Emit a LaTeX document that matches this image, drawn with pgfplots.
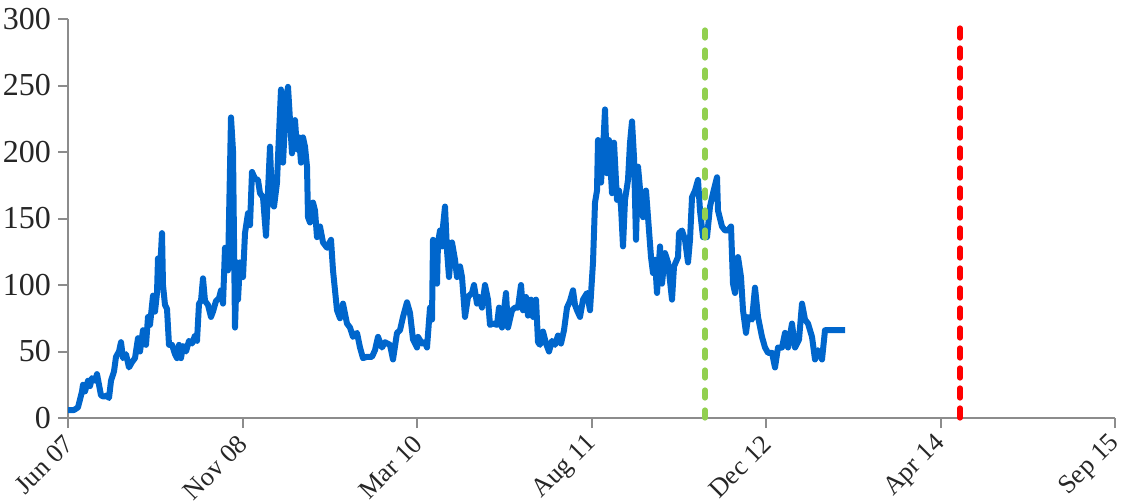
\documentclass[border=0pt]{standalone}
\usepackage{fontspec}
\setmainfont{Liberation Serif}
\usepackage{pgfplots}
\pgfplotsset{compat=1.18}
\definecolor{lineblue}{RGB}{0,102,204}
\definecolor{dgreen}{RGB}{146,208,80}
\definecolor{axgray}{RGB}{140,140,140}
\begin{document}
\begin{tikzpicture}
\begin{axis}[
    name=ax,
    scale only axis,
    width=523.5pt, height=199.5pt,
    xmin=68, xmax=1115, ymin=0, ymax=300,
    axis x line*=bottom, axis y line*=left,
    axis line style={axgray, line width=1pt},
    tick style={axgray, line width=1pt},
    tick align=outside,
    major tick length=5pt,
    ytick={0,50,100,150,200,250,300},
    xtick={68,242.5,417,591.5,766,940.5,1115},
    xticklabels={Jun 07,Nov 08,Mar 10,Aug 11,Dec 12,Apr 14,Sep 15},
    yticklabel style={font=\fontsize{16}{18}\selectfont},
    x tick label style={rotate=45, anchor=east, inner sep=1pt, yshift=-4.5pt, xshift=-2.8pt,
        font=\fontsize{13.2}{15}\selectfont},
    ticklabel style={text=black!85},
    /pgf/number format/assume math mode=true,
    clip=false,
]
\addplot[lineblue, line width=3pt, line join=round] coordinates {
(68,6) (74,6) (78,8) (80,14) (82,20) (83,25) (85,20) (88,28) (90,24) (92,30)
(95,28) (97,33) (99,25) (101,17) (104,16) (107,17) (109,15) (111,28) (114,35) (116,46)
(119,50) (121,57) (123,45) (126,48) (129,38) (132,42) (135,45) (138,60) (140,50) (143,66)
(146,55) (148,76) (150,70) (153,92) (155,80) (157,94) (158,120) (160,110) (162,139) (163,100)
(165,85) (167,82) (169,55) (172,55) (175,48) (177,45) (179,55) (181,45) (183,54) (186,50)
(189,58) (192,56) (195,62) (197,58) (199,86) (201,88) (203,105) (205,88) (208,85) (211,76)
(213,80) (216,88) (219,90) (221,96) (223,86) (225,128) (228,111) (231,226) (233,201) (235,68)
(237,117) (238,89) (240,117) (243,106) (245,139) (248,154) (250,145) (252,185) (255,180) (258,179)
(260,169) (263,166) (266,137) (270,204) (272,162) (274,159) (277,177) (278,196) (281,247) (282,220)
(283,192) (286,237) (288,249) (290,224) (292,199) (295,224) (297,202) (299,211) (301,192) (303,211)
(305,204) (307,189) (308,151) (310,147) (313,162) (315,156) (317,136) (320,144) (323,132) (327,128)
(331,134) (333,111) (337,81) (340,75) (343,86) (347,71) (350,68) (353,61) (357,64) (360,53)
(363,45) (367,46) (372,46) (375,51) (378,61) (382,53) (385,57) (390,55) (393,44) (397,64)
(400,66) (403,76) (407,87) (410,79) (413,59) (417,53) (418,61) (422,56) (425,57) (427,53)
(430,83) (432,74) (433,134) (437,101) (438,132) (440,141) (442,129) (443,144) (445,159) (447,126)
(449,106) (452,132) (455,119) (457,106) (460,114) (462,106) (465,76) (468,91) (472,94) (474,100)
(477,86) (479,91) (482,83) (485,100) (488,89) (490,70) (493,71) (497,70) (499,83) (502,68)
(506,94) (508,68) (512,81) (515,83) (518,83) (521,100) (523,81) (526,91) (528,77) (531,89)
(533,76) (536,89) (538,57) (540,55) (543,65) (546,56) (549,50) (552,58) (555,55) (558,62)
(561,56) (564,66) (567,83) (570,88) (573,96) (575,85) (577,81) (580,76) (583,89) (587,94)
(590,81) (593,117) (595,162) (597,171) (598,209) (600,190) (601,177) (603,201) (605,232) (607,184)
(609,209) (612,169) (614,207) (617,164) (619,171) (621,159) (623,129) (625,164) (628,179) (630,207)
(632,223) (634,196) (636,134) (638,189) (641,164) (643,151) (646,171) (648,151) (651,121) (653,109)
(655,119) (657,94) (660,129) (662,101) (665,124) (668,117) (672,89) (674,114) (678,121) (679,139)
(682,141) (685,134) (688,117) (690,134) (692,166) (695,171) (698,179) (700,156) (703,136) (707,136)
(710,159) (713,169) (717,181) (718,156) (722,144) (725,141) (728,141) (731,144) (733,101) (735,94)
(737,106) (738,121) (741,106) (743,81) (746,64) (748,76) (752,74) (755,98) (758,76) (762,61)
(765,53) (768,49) (772,49) (775,38) (778,53) (782,53) (785,64) (788,53) (792,71) (795,53)
(799,59) (802,86) (805,74) (808,71) (812,61) (815,44) (818,51) (822,44) (825,66) (845,66)
};
\addplot[dgreen, line width=2.6pt, line cap=round, dash pattern=on 4pt off 6pt] coordinates {(705,0) (705,296)};
\addplot[red, line width=2.6pt, line cap=round, dash pattern=on 5pt off 5pt] coordinates {(960,0) (960,296)};
\end{axis}
\pgfresetboundingbox
\path[use as bounding box] ([xshift=-34pt, yshift=-42.5pt]ax.south west) rectangle ([xshift=3.5pt, yshift=9.5pt]ax.north east);
\end{tikzpicture}
\end{document}
